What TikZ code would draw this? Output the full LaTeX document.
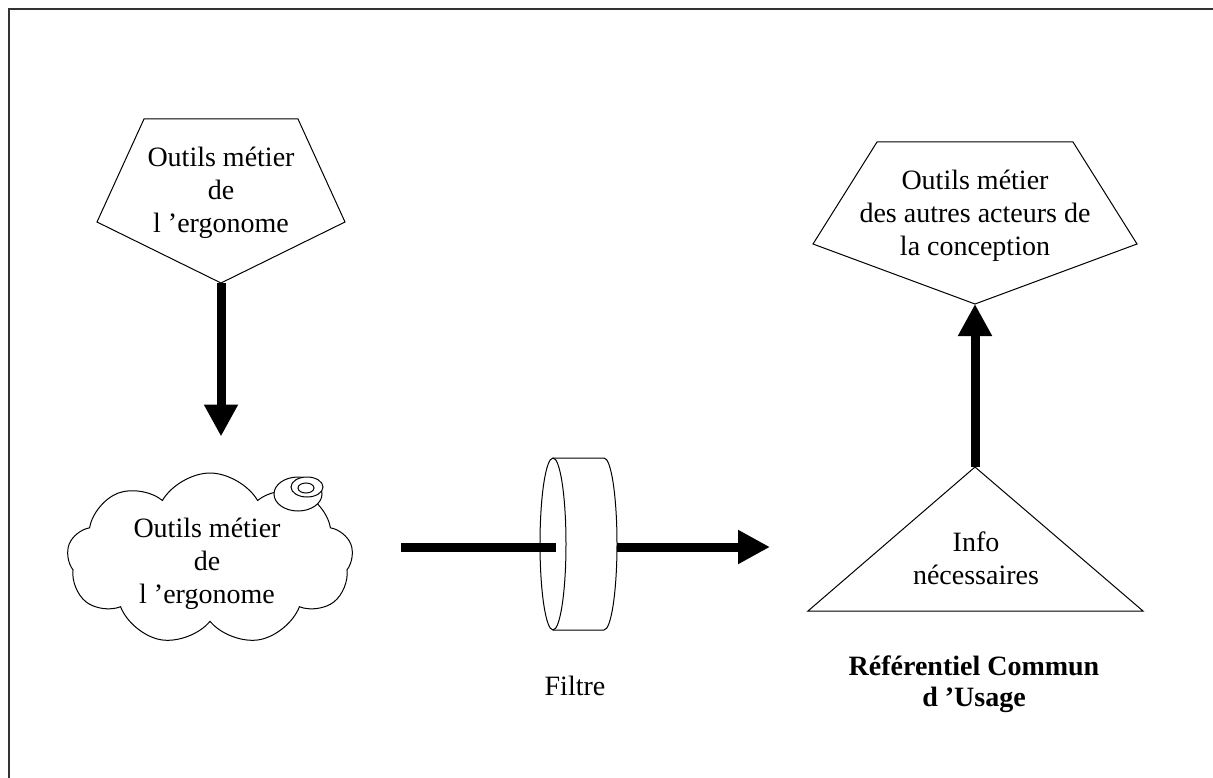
\documentclass[tikz,border=0pt]{standalone}
\usepackage{fontspec}
\setmainfont{Liberation Serif}
\usetikzlibrary{shapes.symbols,arrows.meta}

\begin{document}
\begin{tikzpicture}[x=1pt,y=-1pt,
bigarrow/.style={line width=9pt,-{Triangle[length=32pt,width=32pt]}},
bigline/.style={line width=9pt},
outline/.style={draw,line width=1pt,fill=white},
txt/.style={align=center,inner sep=0pt,font=\fontsize{28}{33}\selectfont},
boldtxt/.style={align=center,inner sep=0pt,font=\fontsize{28}{31}\selectfont\bfseries},
nuage/.style={cloud,cloud puffs=9,cloud puff arc=120,aspect=1.65,draw,line width=1pt,
  minimum width=286pt,minimum height=172pt,inner sep=0pt}]

\useasboundingbox (0,0) rectangle (1213,778);
\draw[line width=1.5pt,black!80] (9,778) -- (9,9) -- (1213,9);

% outils de l'ergonome (pentagone)
\draw[outline] (144,119) -- (298,119) -- (345,222) -- (221,283) coordinate (pe-s) -- (97,222) -- cycle;
\node[txt] (pe) at (221,193) {Outils métier\\de\\l ’ergonome};

% nuage
\node[nuage] (ergo) at (210,559) {};
\node[txt] (ergo-txt) at (207,564) {Outils métier\\de\\l ’ergonome};
\draw[outline] (298,494) ellipse [x radius=24, y radius=17];
\draw[outline] (307,487) ellipse [x radius=16, y radius=10];
\draw[line width=1pt] (306,488) ellipse [x radius=8, y radius=5];

\draw[bigarrow,shorten >=36pt] (pe-s) -- (pe-s |- ergo.north);

% filtre
\node[inner sep=0pt,minimum width=64pt,minimum height=172pt] (filtre) at (585,544) {};
\draw[outline] (553,458) -- (604,458) arc[start angle=-90,end angle=90,x radius=13,y radius=86] -- (553,630);
\draw[outline] (553,544) ellipse [x radius=13, y radius=86];
\node[txt] (filtre-txt) at (575,686) {Filtre};

\coordinate (ergo-out) at (401,547);
\coordinate (rcu-w) at (770,547);
\draw[bigline] (ergo-out) -- ([xshift=3pt]filtre.west |- ergo-out);
\draw[bigarrow] (filtre.east |- ergo-out) -- (rcu-w);

% referentiel commun
\draw[outline] (975,467) coordinate (rcu-n) -- (1143,611) -- (808,611) -- cycle;
\node[txt] (rcu) at (976,558) {Info\\nécessaires};
\node[boldtxt] (rcu-titre) at (974,684) {Référentiel Commun\\d ’Usage};

% outils des autres acteurs
\draw[outline] (877,142) -- (1073,142) -- (1137,244) -- (975,304) coordinate (pa-s) -- (813,244) -- cycle;
\node[txt] (pa) at (975,216) {Outils métier\\des autres acteurs de\\la conception};

\draw[bigarrow] (rcu-n) -- (pa-s);

\end{tikzpicture}
\end{document}
